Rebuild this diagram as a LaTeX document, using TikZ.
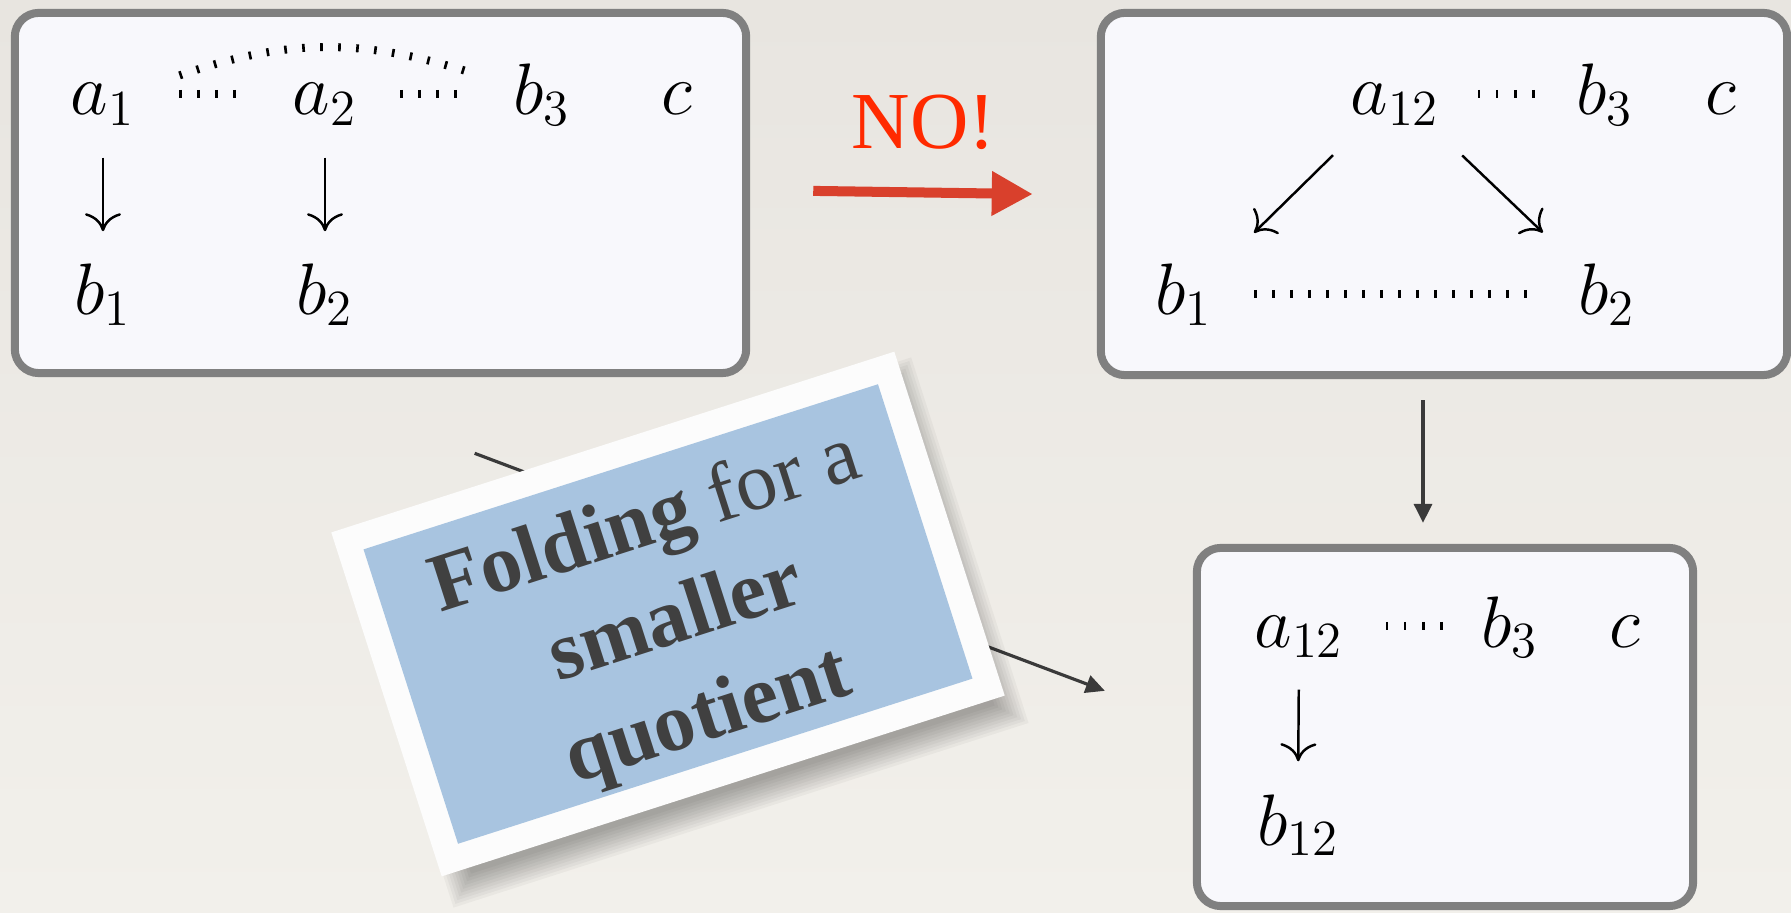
\documentclass[tikz,border=0pt]{standalone}
\usepackage{fontspec}
\usepackage{xcolor}
\usepackage{tikz}
\usetikzlibrary{arrows.meta,calc,decorations.pathreplacing}
\newfontfamily\noface{Liberation Serif}
\newfontfamily\cardface{Liberation Serif}
\definecolor{paper}{HTML}{E8E5E0}
\definecolor{paperlow}{HTML}{F2F0EB}
\definecolor{panelgray}{HTML}{808080}
\definecolor{panelfill}{HTML}{F8F8FC}
\definecolor{linkgray}{HTML}{3A3A3A}
\definecolor{noarrow}{HTML}{D9402C}
\definecolor{noword}{HTML}{FF2A00}
\definecolor{cardwhite}{HTML}{FCFCFC}
\definecolor{cardblue}{HTML}{A8C4E0}
\definecolor{cardink}{HTML}{404040}
\tikzset{
  panel/.style={draw=panelgray, line width=0.08cm, rounded corners=0.24cm, fill=panelfill},
  elem/.style={inner sep=0pt, anchor=base, text height=0.52cm, text depth=0.1cm,
               font=\fontsize{21}{25}\selectfont},
  mapsto/.style={line width=0.7pt, -{Computer Modern Rightarrow[length=0.18cm, width=0.36cm]},
                 shorten <=0.32cm, shorten >=0.31cm},
  relate/.style={line width=0.75pt, decorate,
                 decoration={ticks, segment length=0.18cm, amplitude=0.04cm}},
  link/.style={draw=linkgray, line width=0.9pt, -{Triangle[length=0.19cm, width=0.18cm]}},
  nogo/.style={draw=noarrow, line width=0.1cm, -{Triangle[length=0.41cm, width=0.42cm]}},
  noword/.style={text=noword, inner sep=0pt, font=\noface\fontsize{23}{27}\selectfont},
  card/.style={fill=cardwhite, draw=none},
  face/.style={fill=cardblue, draw=none},
  cardtext/.style={text=cardink, align=center, inner sep=0pt,
                   font=\cardface\fontsize{23.5}{29}\selectfont}
}
\begin{document}
\begin{tikzpicture}[x=0.01cm, y=-0.01cm]
  \fill[top color=paper, bottom color=paperlow] (0,0) rectangle (1791,913);
  \useasboundingbox (0,0) rectangle (1791,913);

  \node[panel, minimum width=7.31cm, minimum height=3.60cm] (box1) at (380.5,193) {};
  \node[panel, minimum width=6.86cm, minimum height=3.62cm] (box2) at (1444,194) {};
  \node[panel, minimum width=4.96cm, minimum height=3.58cm] (box3) at (1445,727) {};

  \node[elem] (a1) at (103,115) {$a_1$};
  \node[elem] (a2) at (325,115) {$a_2$};
  \node[elem] (b3) at (542,115) {$b_3$};
  \node[elem] (c)  at (677,115) {$c$};
  \node[elem] (b1) at (103,315) {$b_1$};
  \node[elem] (b2) at (325,315) {$b_2$};
  \draw[mapsto] (a1.south) -- (b1.north);
  \draw[mapsto] (a2.south) -- (b2.north);
  \draw[relate] ([xshift=0.45cm]a1.east) -- ([xshift=-0.42cm]a2.west);
  \draw[relate] ([xshift=0.44cm]a2.east) -- ([xshift=-0.41cm]b3.west);
  \draw[relate] ([xshift=0.45cm,yshift=0.19cm]a1.east) to[bend left=18]
                ([xshift=-0.47cm,yshift=0.23cm]b3.west);

  \node[elem] (na12) at (1395,115) {$a_{12}$};
  \node[elem] (nb3)  at (1605,115) {$b_3$};
  \node[elem] (nc)   at (1721,115) {$c$};
  \node[elem] (nb1)  at (1184,315) {$b_1$};
  \node[elem] (nb2)  at (1607,315) {$b_2$};
  \draw[relate] ([xshift=0.39cm]na12.east) -- ([xshift=-0.35cm]nb3.west);
  \draw[relate] ([xshift=0.42cm]nb1.east) -- ([xshift=-0.51cm]nb2.west);
  \draw[mapsto, shorten <=0.42cm, shorten >=0.42cm]
    ([xshift=-0.32cm]na12.south) -- ([xshift=0.40cm]nb1.north);
  \draw[mapsto, shorten <=0.43cm, shorten >=0.43cm]
    ([xshift=0.36cm]na12.south) -- ([xshift=-0.33cm]nb2.north);

  \node[elem] (fa12) at (1299,647) {$a_{12}$};
  \node[elem] (fb3)  at (1510,647) {$b_3$};
  \node[elem] (fc)   at (1625,647) {$c$};
  \node[elem] (fb12) at (1298,845) {$b_{12}$};
  \draw[mapsto] (fa12.south) -- (fb12.north);
  \draw[relate] ([xshift=0.43cm]fa12.east) -- ([xshift=-0.39cm]fb3.west);

  \draw[nogo, shorten <=0.63cm, shorten >=0.64cm]
    ([yshift=0.03cm]box1.east) -- node[noword, above=0.38cm] {NO!} ([yshift=-0.01cm]box2.west);
  \draw[link, shorten <=0.21cm, shorten >=0.21cm]
    ([xshift=-0.21cm]box2.south) -- ([xshift=-0.22cm]box3.north);
  \draw[link, shorten <=2.16cm, shorten >=0.94cm]
    ([xshift=-1.08cm]box1.south) -- ([yshift=0.03cm]box3.west);

  \foreach \s in {0,...,9} {
    \pgfmathsetmacro\hw{302-3*\s}
    \pgfmathsetmacro\hh{192-3*\s}
    \fill[black, opacity=0.035, rotate around={17.8:(668,614)}]
      ($(668,614)+(8-\hw,22-\hh)$) rectangle ($(668,614)+(8+\hw,22+\hh)$);
  }
  \node[card, rotate=17.8, minimum width=5.91cm, minimum height=3.61cm] (card) at (668,614) {};
  \node[face, rotate=17.8, minimum width=5.40cm, minimum height=3.09cm] (face) at (card.center) {};
  \node[cardtext, rotate=17.8] (fold) at (677,622)
    {\textbf{Folding} for a\\\textbf{smaller}\\\textbf{quotient}};
\end{tikzpicture}
\end{document}
